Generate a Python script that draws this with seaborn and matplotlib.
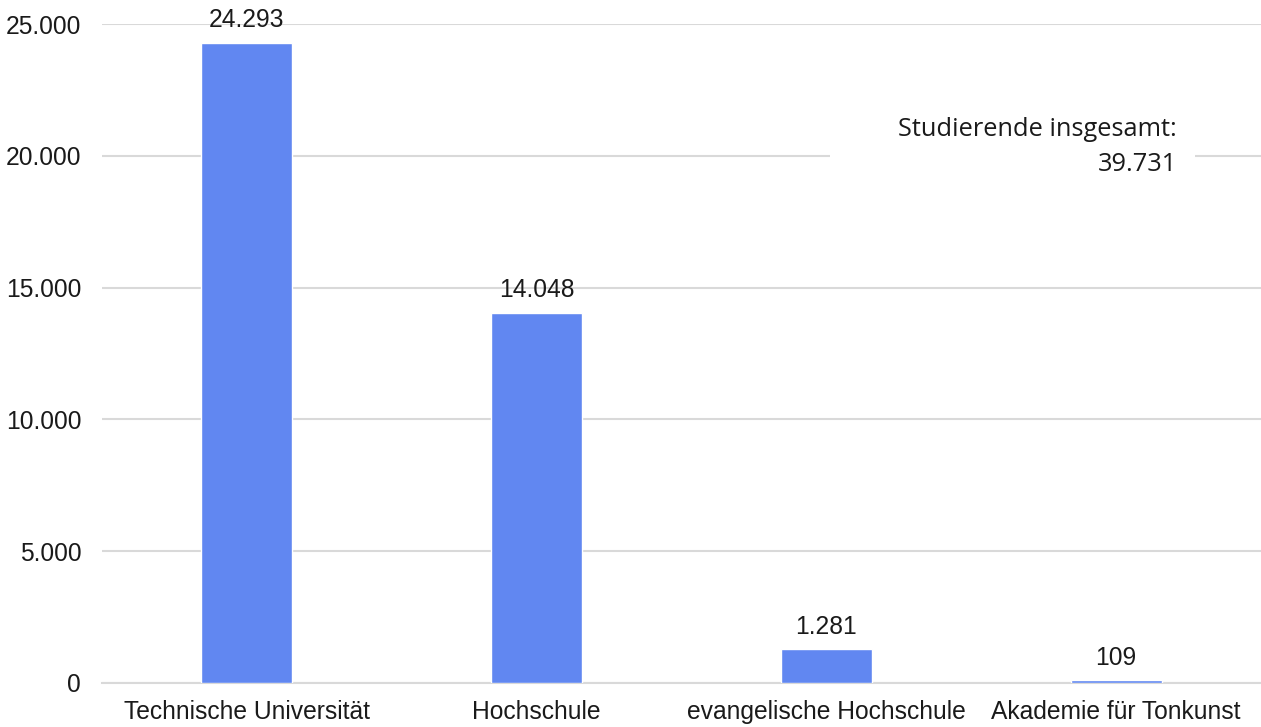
import pandas as pd
import seaborn as sns
import matplotlib.pyplot as plt
from matplotlib.patches import Rectangle
from matplotlib.ticker import FuncFormatter

categories = ["Technische Universität", "Hochschule", "evangelische Hochschule", "Akademie für Tonkunst"]
students = [24293, 14048, 1281, 109]
total_label = "Studierende insgesamt:\n39.731"

df = pd.DataFrame({"einrichtung": categories, "studierende": students})


def de_format(v, pos=None):
    return f"{int(round(v)):,}".replace(",", ".")


sns.set_theme(style="white")
plt.rcParams["font.family"] = ["Liberation Sans", "DejaVu Sans"]

fig = plt.figure(figsize=(12.61, 7.27), dpi=100)
ax = fig.add_axes([102 / 1261, 1 - 683 / 727, 1 - 102 / 1261, (683 - 24) / 727])

sns.barplot(data=df, x="einrichtung", y="studierende", color="#6187F1",
            saturation=1, width=0.314, ax=ax, zorder=3)

ax.set_ylim(0, 25000)
ax.set_xlim(-0.5, 3.5)
ax.set_yticks(range(0, 25001, 5000))
ax.yaxis.set_major_formatter(FuncFormatter(de_format))
ax.grid(axis="y", color="#d9d9d9", linewidth=1.5, zorder=0)
ax.set_axisbelow(True)
for side in ["left", "right", "top"]:
    ax.spines[side].set_visible(False)
ax.spines["bottom"].set_color("#d9d9d9")
ax.spines["bottom"].set_linewidth(1.5)
ax.tick_params(axis="both", length=0, labelsize=17.7, colors="#1a1a1a")
ax.tick_params(axis="y", pad=15)
ax.tick_params(axis="x", pad=12)
ax.set_xlabel("")
ax.set_ylabel("")

for i, v in enumerate(students):
    ax.text(i, v + 400, de_format(v), ha="center", va="bottom",
            fontsize=17.7, color="#1a1a1a", zorder=4)

# white box behind the total, hiding the gridline
ax.add_patch(Rectangle((2.012, 19000), 1.26, 2200, facecolor="white",
                       edgecolor="none", zorder=4))
ax.text(3.21, 20330, total_label, ha="right", va="center", fontsize=18.3,
        family=["Open Sans", "DejaVu Sans"], color="#1a1a1a", linespacing=1.5,
        zorder=5)

plt.savefig("out.png", dpi=100)
